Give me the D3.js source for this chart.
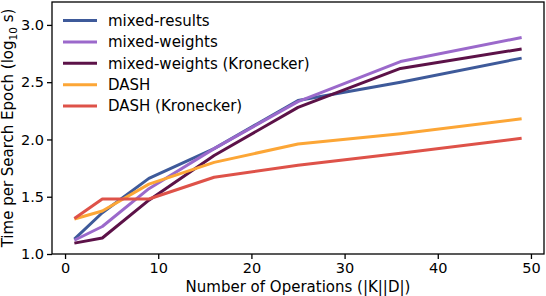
<!DOCTYPE html>
<html>
<head>
<meta charset="UTF-8">
<script src="https://d3js.org/d3.v7.min.js"></script>
<style>
  body { margin: 0; background: #fff; }
  text { font-family: "DejaVu Sans", sans-serif; fill: #000; }
</style>
</head>
<body>
<div id="vis"></div>
<script>
// data
const ops = [1, 4, 9, 16, 25, 36, 49];
const seriesNames = ["mixed-results", "mixed-weights", "mixed-weights (Kronecker)", "DASH", "DASH (Kronecker)"];
const mixedResults = [1.13, 1.36, 1.66, 1.92, 2.34, 2.50, 2.71];
const mixedWeights = [1.12, 1.24, 1.57, 1.92, 2.33, 2.68, 2.89];
const mixedWeightsKron = [1.095, 1.14, 1.47, 1.86, 2.28, 2.62, 2.79];
const dash = [1.305, 1.375, 1.61, 1.80, 1.96, 2.05, 2.18];
const dashKron = [1.31, 1.48, 1.48, 1.67, 1.775, 1.88, 2.01];
const colors = ["#3e5a9a", "#9b69cb", "#5c1248", "#fca636", "#de5249"];
const yTicks = [1.0, 1.5, 2.0, 2.5, 3.0];
const xTicks = [0, 10, 20, 30, 40, 50];

const allSeries = [mixedResults, mixedWeights, mixedWeightsKron, dash, dashKron];

const W = 546, H = 296;
const m = {left: 52, top: 2, right: 2, bottom: 42};

const svg = d3.select("#vis").append("svg")
    .attr("width", W)
    .attr("height", H);

const pad = (49 - 1) * 0.05;
const x = d3.scaleLinear().domain([1 - pad, 49 + pad]).range([m.left, W - m.right]);
const y = d3.scaleLinear().domain([1.0, 3.2]).range([H - m.bottom, m.top]);

const line = d3.line()
    .x((d, i) => x(ops[i]))
    .y(d => y(d));

svg.selectAll("path.series")
    .data(allSeries)
    .enter().append("path")
    .attr("class", "series")
    .attr("d", d => line(d))
    .attr("fill", "none")
    .attr("stroke", (d, i) => colors[i])
    .attr("stroke-width", 3)
    .attr("stroke-linejoin", "round");

// frame
svg.append("rect")
    .attr("x", m.left)
    .attr("y", m.top)
    .attr("width", W - m.left - m.right)
    .attr("height", H - m.top - m.bottom)
    .attr("fill", "none")
    .attr("stroke", "#000")
    .attr("stroke-width", 1.3);

const xAxis = svg.append("g")
    .attr("transform", `translate(0,${H - m.bottom})`)
    .call(d3.axisBottom(x).tickValues(xTicks).tickFormat(d3.format("d")).tickSize(5).tickPadding(4));
const yAxis = svg.append("g")
    .attr("transform", `translate(${m.left},0)`)
    .call(d3.axisLeft(y).tickValues(yTicks).tickFormat(d3.format(".1f")).tickSize(5).tickPadding(3));

[xAxis, yAxis].forEach(a => {
    a.select(".domain").remove();
    a.selectAll(".tick line").attr("stroke", "#000").attr("stroke-width", 1.3);
    a.selectAll(".tick text").style("font-size", "14.5px").attr("fill", "#000")
        .style("font-family", "DejaVu Sans, sans-serif");
});

svg.append("text")
    .attr("x", (m.left + W - m.right) / 2)
    .attr("y", H - 4)
    .attr("text-anchor", "middle")
    .style("font-size", "15px")
    .text("Number of Operations (|K||D|)");

const yl = svg.append("text")
    .attr("transform", `translate(13,${(m.top + H - m.bottom) / 2}) rotate(-90)`)
    .attr("text-anchor", "middle")
    .style("font-size", "15px");
yl.append("tspan").text("Time per Search Epoch (log");
yl.append("tspan").attr("dy", 4).style("font-size", "10.5px").text("10");
yl.append("tspan").attr("dy", -4).text(" s)");

// legend
const leg = svg.append("g");
const rows = leg.selectAll("g")
    .data(seriesNames)
    .enter().append("g")
    .attr("transform", (d, i) => `translate(63,${20.5 + i * 21.4})`);
rows.append("line")
    .attr("x1", 0).attr("x2", 34)
    .attr("stroke", (d, i) => colors[i])
    .attr("stroke-width", 3);
rows.append("text")
    .attr("x", 45)
    .attr("dy", "0.35em")
    .style("font-size", "15px")
    .text(d => d);
</script>
</body>
</html>
